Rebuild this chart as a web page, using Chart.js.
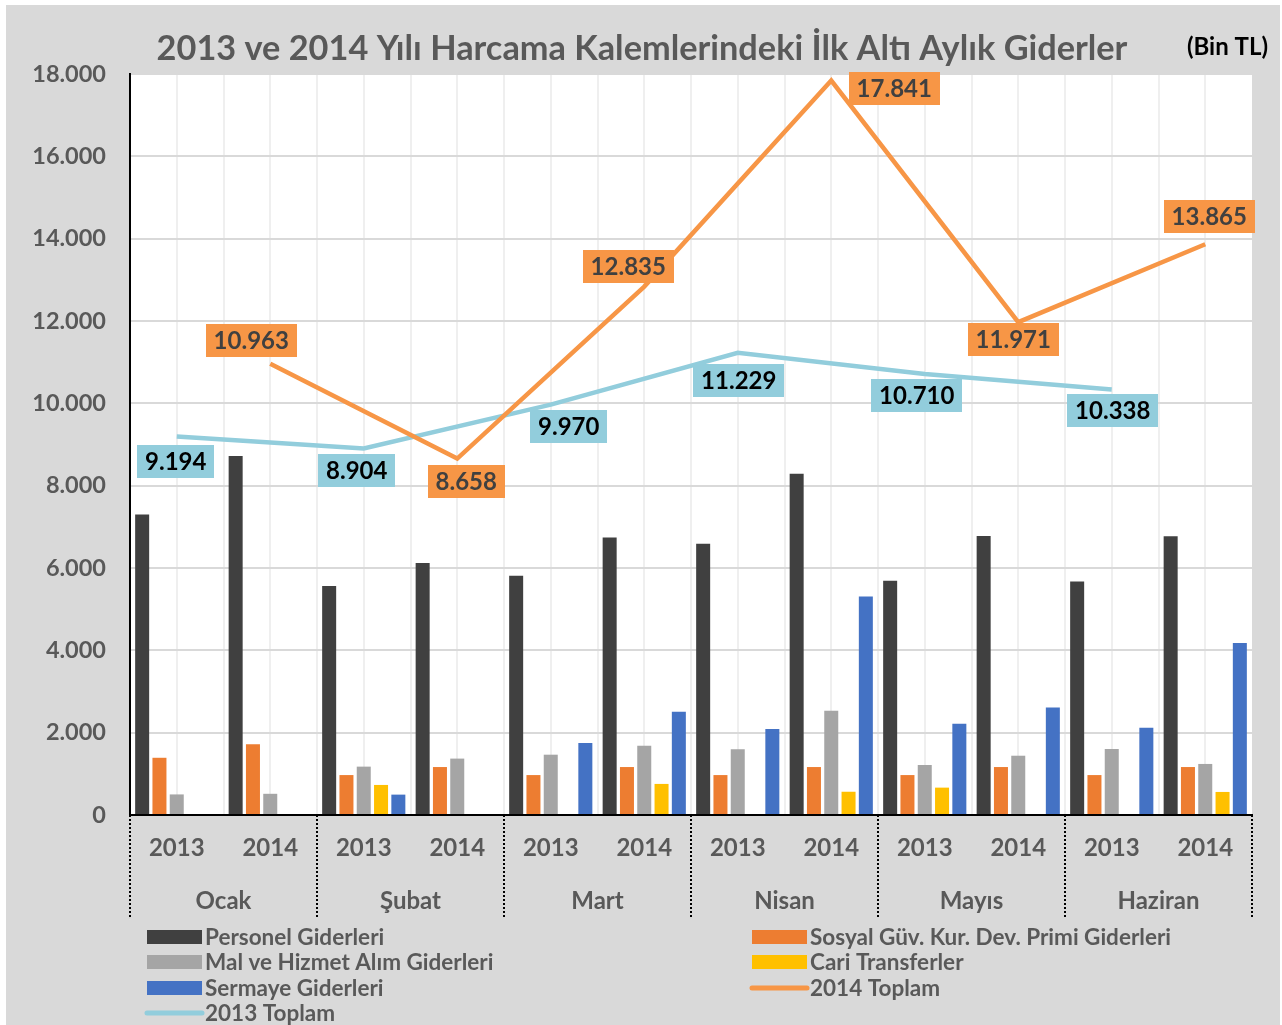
<!DOCTYPE html>
<html>
<head>
<meta charset="utf-8">
<script src="https://cdn.jsdelivr.net/npm/chart.js@4.4.1/dist/chart.umd.min.js"></script>
<style>
  body { margin: 0; background: #fff; }
  #wrap { width: 1282px; height: 1025px; }
</style>
</head>
<body>
<div id="wrap"><canvas id="myChart" width="1282" height="1025"></canvas></div>
<script>
// x axis: year ticks, grouped by month
var years = ['2013', '2014', '2013', '2014', '2013', '2014', '2013', '2014', '2013', '2014', '2013', '2014']
var months = ['Ocak', 'Şubat', 'Mart', 'Nisan', 'Mayıs', 'Haziran']

// Bin TL
var personel = [7300, 8720, 5560, 6120, 5810, 6740, 6590, 8290, 5690, 6780, 5670, 6770]
var sosyalGuv = [1390, 1720, 970, 1165, 970, 1165, 970, 1165, 970, 1165, 970, 1165]
var malHizmet = [500, 515, 1175, 1370, 1465, 1680, 1600, 2535, 1215, 1440, 1605, 1240]
var cariTransfer = [0, 0, 730, 0, 0, 755, 0, 565, 665, 0, 0, 560]
var sermaye = [0, 0, 495, 0, 1750, 2510, 2090, 5310, 2215, 2610, 2120, 4180]
var toplam2014 = [null, 10963, null, 8658, null, 12835, null, 17841, null, 11971, null, 13865]
var toplam2013 = [9194, null, 8904, null, 9970, null, 11229, null, 10710, null, 10338, null]

var yTicks = [0, 2000, 4000, 6000, 8000, 10000, 12000, 14000, 16000, 18000]

// label box offsets from the point (px), like the moved labels in the original
var offs2014 = [null, [-19, -23], null, [9, 23], null, [-16, -20], null, [63, 8], null, [-5, 17], null, [4, -28]]
var offs2013 = [[-1, 25], null, [-7, 22], null, [18, 22], null, [1, 28], null, [-8, 21], null, [1, 21], null]

var FONT = 'Lato, "Open Sans", sans-serif'
var GRAY_TXT = '#595959'

function fmt(v) {
  return String(Math.round(v)).replace(/\B(?=(\d{3})+(?!\d))/g, '.')
}

var framePlugin = {
  id: 'frame',
  beforeDraw: function (chart) {
    var ctx = chart.ctx, a = chart.chartArea
    ctx.save()
    ctx.fillStyle = '#fff'
    ctx.fillRect(0, 0, chart.width, chart.height)
    ctx.fillStyle = '#d9d9d9'
    ctx.fillRect(6, 5, 1274, 1020)
    ctx.fillStyle = '#fff'
    ctx.fillRect(a.left, a.top, a.right - a.left, a.bottom - a.top)
    // faint vertical grid, every half category
    ctx.strokeStyle = '#efefef'
    ctx.lineWidth = 2
    var step = (a.right - a.left) / 24
    for (var i = 1; i < 24; i++) {
      var x = Math.round(a.left + i * step)
      ctx.beginPath()
      ctx.moveTo(x, a.top)
      ctx.lineTo(x, a.bottom)
      ctx.stroke()
    }
    ctx.restore()
  },
  afterDatasetsDraw: function (chart) {
    var ctx = chart.ctx
    ctx.save()
    ctx.font = 'bold 24px ' + FONT
    ctx.textAlign = 'center'
    ctx.textBaseline = 'middle'
    var sets = [
      { idx: 5, offs: offs2014, fill: '#f79646', txt: '#404040' },
      { idx: 6, offs: offs2013, fill: '#92cddc', txt: '#000' }
    ]
    sets.forEach(function (s) {
      var meta = chart.getDatasetMeta(s.idx)
      var data = chart.data.datasets[s.idx].data
      data.forEach(function (v, i) {
        if (v == null) return
        var p = meta.data[i]
        var cx = p.x + s.offs[i][0], cy = p.y + s.offs[i][1]
        var t = fmt(v)
        var w = ctx.measureText(t).width + 16, h = 33
        ctx.fillStyle = s.fill
        ctx.fillRect(Math.round(cx - w / 2), Math.round(cy - h / 2), Math.round(w), h)
        ctx.fillStyle = s.txt
        ctx.fillText(t, cx, cy + 1)
      })
    })
    ctx.restore()
  },
  afterDraw: function (chart) {
    var ctx = chart.ctx, a = chart.chartArea
    ctx.save()
    // title, sized to the original's width
    var title = '2013 ve 2014 Yılı Harcama Kalemlerindeki İlk Altı Aylık Giderler'
    ctx.font = 'bold 31px ' + FONT
    var size = 31 * 970 / ctx.measureText(title).width
    ctx.font = 'bold ' + size.toFixed(1) + 'px ' + FONT
    ctx.fillStyle = GRAY_TXT
    ctx.textAlign = 'center'
    ctx.textBaseline = 'middle'
    ctx.fillText(title, 642, 49)
    ctx.font = 'bold 24px ' + FONT
    ctx.fillStyle = '#000'
    ctx.textAlign = 'right'
    ctx.fillText('(Bin TL)', 1268, 47)

    // month groups + dotted separators
    var grp = (a.right - a.left) / months.length
    ctx.strokeStyle = '#000'
    ctx.lineWidth = 2
    ctx.setLineDash([2, 2])
    for (var i = 0; i <= months.length; i++) {
      var x = Math.round(a.left + i * grp)
      ctx.beginPath()
      ctx.moveTo(x, a.bottom)
      ctx.lineTo(x, 918)
      ctx.stroke()
    }
    ctx.setLineDash([])
    ctx.font = 'bold 24px ' + FONT
    ctx.fillStyle = GRAY_TXT
    ctx.textAlign = 'center'
    months.forEach(function (m, i) {
      ctx.fillText(m, a.left + (i + 0.5) * grp, 901)
    })

    // legend, two columns
    var cols = [147, 752]
    var rows = [937, 962, 988, 1013]
    ctx.font = 'bold 22.5px ' + FONT
    ctx.textAlign = 'left'
    chart.data.datasets.forEach(function (ds, i) {
      var x = cols[i % 2], y = rows[Math.floor(i / 2)]
      if (ds.type === 'line') {
        ctx.strokeStyle = ds.borderColor
        ctx.lineWidth = 5
        ctx.lineCap = 'round'
        ctx.beginPath()
        ctx.moveTo(x, y)
        ctx.lineTo(x + 55, y)
        ctx.stroke()
      } else {
        ctx.fillStyle = ds.backgroundColor
        ctx.fillRect(x, y - 7, 55, 14)
      }
      ctx.fillStyle = GRAY_TXT
      ctx.fillText(ds.label, x + 58, y + 1)
    })
    ctx.restore()
  }
}

var ctx = document.getElementById('myChart').getContext('2d')
var myChart = new Chart(ctx, {
  type: 'bar',
  data: {
    labels: years,
    datasets: [
      { label: 'Personel Giderleri', data: personel, backgroundColor: '#404040', order: 2 },
      { label: 'Sosyal Güv. Kur. Dev. Primi Giderleri', data: sosyalGuv, backgroundColor: '#ed7d31', order: 2 },
      { label: 'Mal ve Hizmet Alım Giderleri', data: malHizmet, backgroundColor: '#a5a5a5', order: 2 },
      { label: 'Cari Transferler', data: cariTransfer, backgroundColor: '#ffc000', order: 2 },
      { label: 'Sermaye Giderleri', data: sermaye, backgroundColor: '#4472c4', order: 2 },
      {
        type: 'line', label: '2014 Toplam', data: toplam2014, borderColor: '#f79646',
        borderWidth: 4.5, pointRadius: 0, spanGaps: true, tension: 0, order: 0
      },
      {
        type: 'line', label: '2013 Toplam', data: toplam2013, borderColor: '#92cddc',
        borderWidth: 4.5, pointRadius: 0, spanGaps: true, tension: 0, order: 1
      }
    ]
  },
  options: {
    responsive: false,
    animation: false,
    categoryPercentage: 0.925,
    barPercentage: 0.81,
    layout: { padding: { top: 74, right: 30, left: 0, bottom: 0 } },
    plugins: { legend: { display: false }, tooltip: { enabled: false } },
    scales: {
      x: {
        grid: { display: false, drawTicks: false },
        border: { display: true, color: '#000', width: 2, dash: [2, 2] },
        ticks: { color: GRAY_TXT, font: { family: FONT, size: 24, weight: 'bold' }, padding: 19, maxRotation: 0 },
        afterFit: function (s) { s.height = 210 }
      },
      y: {
        min: 0,
        max: 18000,
        afterBuildTicks: function (s) { s.ticks = yTicks.map(function (v) { return { value: v } }) },
        grid: { color: '#d9d9d9', lineWidth: 2, drawTicks: false },
        border: { display: true, color: '#000', width: 2 },
        ticks: {
          color: GRAY_TXT, font: { family: FONT, size: 23.5, weight: 'bold' }, padding: 24,
          callback: function (v) { return fmt(v) }
        },
        afterFit: function (s) { s.width = 130 }
      }
    }
  },
  plugins: [framePlugin]
})
</script>
</body>
</html>
